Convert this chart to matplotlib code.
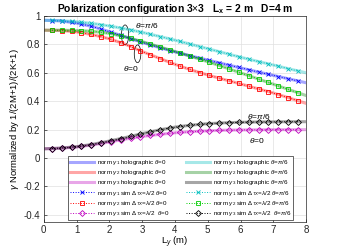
import numpy as np
import matplotlib
matplotlib.use("Agg")
import matplotlib.pyplot as plt
from matplotlib.patches import Ellipse

plt.rcParams["font.family"] = ["Liberation Sans", "DejaVu Sans"]
plt.rcParams["mathtext.fontset"] = "custom"
plt.rcParams["mathtext.rm"] = "Liberation Sans"
plt.rcParams["mathtext.it"] = "Liberation Sans:italic"
plt.rcParams["mathtext.bf"] = "Liberation Sans:bold"

# holographic curves (continuous)
ly_holo = [0.0, 0.5, 1.0, 1.5, 2.0, 2.5, 3.0, 3.5, 4.0, 4.5, 5.0, 5.5, 6.0, 6.5, 7.0, 7.5, 8.0]
g1_holo_0 = [0.970, 0.966, 0.950, 0.925, 0.890, 0.852, 0.815, 0.780, 0.748, 0.718, 0.690, 0.662, 0.635, 0.608, 0.582, 0.556, 0.530]
g2_holo_0 = [0.900, 0.898, 0.888, 0.868, 0.840, 0.800, 0.750, 0.705, 0.660, 0.620, 0.585, 0.553, 0.522, 0.490, 0.458, 0.422, 0.385]
g3_holo_0 = [0.065, 0.069, 0.078, 0.093, 0.113, 0.134, 0.152, 0.166, 0.178, 0.186, 0.192, 0.196, 0.198, 0.199, 0.200, 0.200, 0.200]
g1_holo_30 = [0.970, 0.967, 0.960, 0.947, 0.930, 0.909, 0.885, 0.858, 0.830, 0.800, 0.770, 0.740, 0.710, 0.682, 0.655, 0.627, 0.600]
g2_holo_30 = [0.900, 0.900, 0.898, 0.892, 0.878, 0.852, 0.820, 0.785, 0.750, 0.715, 0.678, 0.640, 0.600, 0.560, 0.520, 0.480, 0.440]
g3_holo_30 = [0.065, 0.070, 0.080, 0.097, 0.120, 0.145, 0.172, 0.197, 0.218, 0.232, 0.242, 0.248, 0.252, 0.254, 0.255, 0.256, 0.256]

# simulated points
ly_sim = [0.25, 0.55, 0.85, 1.15, 1.45, 1.75, 2.05, 2.35, 2.65, 2.95, 3.25, 3.55, 3.85,
          4.15, 4.45, 4.75, 5.05, 5.35, 5.65, 5.95, 6.25, 6.55, 6.85, 7.15, 7.45, 7.75]
g1_sim_0 = [0.968, 0.964, 0.955, 0.943, 0.928, 0.908, 0.886, 0.863, 0.841, 0.819, 0.797, 0.777, 0.757,
            0.739, 0.721, 0.704, 0.687, 0.670, 0.654, 0.638, 0.622, 0.605, 0.590, 0.574, 0.559, 0.543]
g2_sim_0 = [0.899, 0.897, 0.891, 0.882, 0.870, 0.854, 0.836, 0.812, 0.785, 0.755, 0.727, 0.700, 0.673,
            0.648, 0.624, 0.602, 0.582, 0.563, 0.544, 0.525, 0.506, 0.487, 0.468, 0.447, 0.426, 0.404]
g3_sim_0 = [0.067, 0.070, 0.075, 0.082, 0.091, 0.103, 0.115, 0.128, 0.140, 0.150, 0.159, 0.167, 0.174,
            0.180, 0.185, 0.189, 0.192, 0.195, 0.197, 0.198, 0.199, 0.199, 0.200, 0.200, 0.200, 0.200]
g1_sim_30 = [0.969, 0.966, 0.962, 0.956, 0.948, 0.939, 0.928, 0.916, 0.902, 0.888, 0.871, 0.855, 0.838,
             0.821, 0.803, 0.785, 0.767, 0.749, 0.731, 0.713, 0.696, 0.679, 0.663, 0.647, 0.630, 0.613]
g2_sim_30 = [0.900, 0.900, 0.899, 0.896, 0.893, 0.885, 0.875, 0.860, 0.843, 0.823, 0.803, 0.782, 0.761,
             0.740, 0.719, 0.697, 0.674, 0.651, 0.628, 0.604, 0.580, 0.556, 0.532, 0.508, 0.484, 0.460]
g3_sim_30 = [0.067, 0.071, 0.077, 0.085, 0.095, 0.108, 0.122, 0.137, 0.153, 0.169, 0.185, 0.199, 0.212,
             0.222, 0.231, 0.237, 0.243, 0.246, 0.249, 0.252, 0.253, 0.254, 0.255, 0.255, 0.256, 0.256]


def main():
    fig = plt.figure(figsize=(3.39, 2.5), dpi=100)
    ax = fig.add_axes([0.129, 0.112, 0.774, 0.824])

    fs = 7.0
    hw = 2.2
    ha = 0.35
    handles = []

    # theta = 0 column
    h, = ax.plot(ly_holo, g1_holo_0, color="b", lw=hw, alpha=ha, label=r"norm $\gamma_1$ holographic $\theta$=0")
    handles.append(h)
    h, = ax.plot(ly_holo, g2_holo_0, color="r", lw=hw, alpha=ha, label=r"norm $\gamma_2$ holographic $\theta$=0")
    handles.append(h)
    h, = ax.plot(ly_holo, g3_holo_0, color="m", lw=hw, alpha=ha, label=r"norm $\gamma_3$ holographic $\theta$=0")
    handles.append(h)
    h, = ax.plot(ly_sim, g1_sim_0, ls=":", color="b", lw=0.7, marker="x", ms=3, mew=0.6,
                 label=r"norm $\gamma_1$ sim $\Delta_{TX}$=$\lambda$/2 $\theta$=0")
    handles.append(h)
    h, = ax.plot(ly_sim, g2_sim_0, ls=":", color="r", lw=0.7, marker="s", ms=3, mew=0.6, mfc="none",
                 label=r"norm $\gamma_2$ sim $\Delta_{TX}$=$\lambda$/2 $\theta$=0")
    handles.append(h)
    h, = ax.plot(ly_sim, g3_sim_0, ls=":", color="m", lw=0.7, marker="D", ms=3, mew=0.6, mfc="none",
                 label=r"norm $\gamma_3$ sim $\Delta_{TX}$=$\lambda$/2  $\theta$=0")
    handles.append(h)

    # theta = pi/6 column
    h, = ax.plot(ly_holo, g1_holo_30, color="c", lw=hw, alpha=ha, label=r"norm $\gamma_1$ holographic $\theta$=$\pi$/6")
    handles.append(h)
    h, = ax.plot(ly_holo, g2_holo_30, color="g", lw=hw, alpha=ha, label=r"norm $\gamma_2$ holographic $\theta$=$\pi$/6")
    handles.append(h)
    h, = ax.plot(ly_holo, g3_holo_30, color="k", lw=hw, alpha=ha, label=r"norm $\gamma_3$ holographic $\theta$=$\pi$/6")
    handles.append(h)
    h, = ax.plot(ly_sim, g1_sim_30, ls=":", color="c", lw=0.7, marker="x", ms=3, mew=0.6,
                 label=r"norm $\gamma_1$ sim $\Delta_{TX}$=$\lambda$/2 $\theta$=$\pi$/6")
    handles.append(h)
    h, = ax.plot(ly_sim, g2_sim_30, ls=":", color="#00cc00", lw=0.7, marker="s", ms=3, mew=0.6, mfc="none",
                 label=r"norm $\gamma_2$ sim $\Delta_{TX}$=$\lambda$/2 $\theta$=$\pi$/6")
    handles.append(h)
    h, = ax.plot(ly_sim, g3_sim_30, ls=":", color="k", lw=0.7, marker="D", ms=3, mew=0.6, mfc="none",
                 label=r"norm $\gamma_3$ sim $\Delta_{TX}$=$\lambda$/2  $\theta$=$\pi$/6")
    handles.append(h)

    ax.set_xlim(0, 8)
    ax.set_ylim(-0.45, 1)
    ax.set_xticks(range(9))
    ax.set_yticks([-0.4, -0.2, 0, 0.2, 0.4, 0.6, 0.8, 1])
    ax.set_yticklabels(["-0.4", "-0.2", "0", "0.2", "0.4", "0.6", "0.8", "1"])
    ax.tick_params(labelsize=fs, length=2, width=0.5, direction="in", colors="#262626", pad=2.5)
    ax.grid(True, color="#e0e0e0", lw=0.5)
    ax.set_axisbelow(True)
    for s in ax.spines.values():
        s.set_linewidth(0.5)
        s.set_color("#262626")

    ax.set_title(r"Polarization configuration 3$\times$3   L$_\mathbf{x}$ = 2 m   D=4 m",
                 fontsize=7.4, fontweight="bold", pad=3)
    ax.set_xlabel(r"L$_y$ (m)", fontsize=6.8, labelpad=-0.5)
    ax.set_ylabel(r"$\gamma$ Normalized by 1/(2M+1)/(2K+1)", fontsize=6.8, labelpad=2)

    # annotations
    ax.add_patch(Ellipse((2.48, 0.867), 0.22, 0.14, fill=False, lw=0.5, color="k"))
    ax.add_patch(Ellipse((2.86, 0.734), 0.2, 0.125, fill=False, lw=0.5, color="k"))
    ax.text(2.78, 0.935, r"$\theta$=$\pi$/6", fontsize=6, va="center")
    ax.text(2.42, 0.63, r"$\theta$=0", fontsize=6, va="center")
    ax.text(6.2, 0.29, r"$\theta$=$\pi$/6", fontsize=6, va="center")
    ax.text(6.25, 0.125, r"$\theta$=0", fontsize=6, va="center")

    leg = ax.legend(handles=handles, ncol=2, fontsize=4.5, loc="lower left",
                    bbox_to_anchor=(0.093, 0.01, 0.857, 0.336), mode="expand",
                    borderaxespad=0, handlelength=3.8, handletextpad=0.5,
                    columnspacing=0.6, labelspacing=0.2, borderpad=0.3,
                    fancybox=False, framealpha=1, edgecolor="#262626")
    leg.get_frame().set_linewidth(0.5)

    fig.savefig("out.png", dpi=100)


if __name__ == "__main__":
    main()
